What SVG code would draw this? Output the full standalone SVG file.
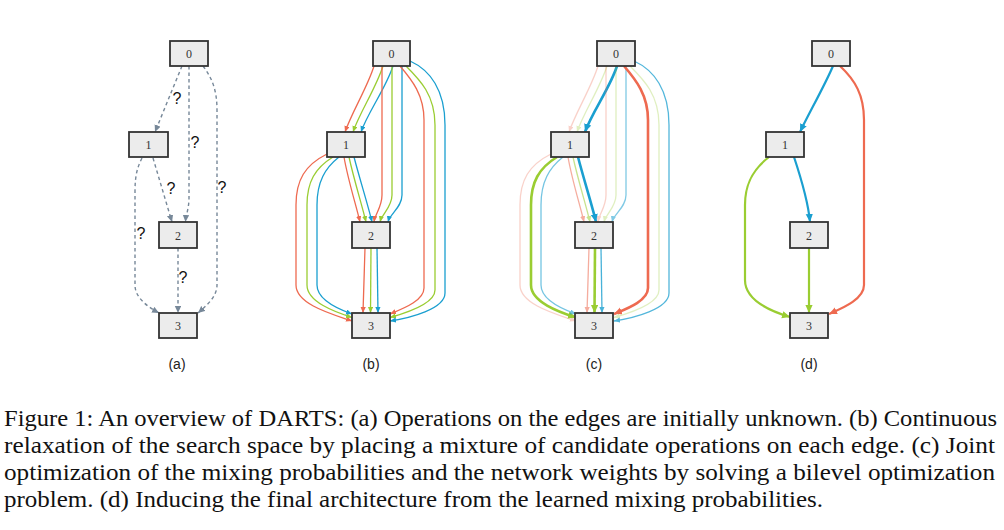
<svg xmlns="http://www.w3.org/2000/svg" width="1004" height="530" viewBox="0 0 1004 530">
<style>
.nd rect{fill:#ececec;stroke:#333;stroke-width:1.8}
.nd text{font-family:"Liberation Serif","Times New Roman",serif;font-size:12px;fill:#333;text-anchor:middle}
.q{font-family:"Liberation Sans",Arial,sans-serif;font-size:16px;fill:#111;text-anchor:middle}
.lab{font-family:"Liberation Sans",Arial,sans-serif;font-size:14px;fill:#222;text-anchor:middle}
.cap{font-family:"Liberation Serif","Times New Roman",serif;font-size:23px;fill:#111}
.e{fill:none}
.g{stroke:#778899;stroke-width:1.4;stroke-dasharray:3.5 3;marker-end:url(#agray)}
.r{stroke:#EE6A50;stroke-width:1.3;marker-end:url(#ars)}
.gr{stroke:#9ACD32;stroke-width:1.3;marker-end:url(#ags)}
.b{stroke:#1A9FD0;stroke-width:1.3;marker-end:url(#abs)}
.rL{stroke:#EE6A50;stroke-width:2.6;marker-end:url(#arl)}
.grL{stroke:#9ACD32;stroke-width:2.6;marker-end:url(#agl)}
.bL{stroke:#1A9FD0;stroke-width:2.6;marker-end:url(#abl)}
.rD{stroke:#EE6A50;stroke-width:2.2;marker-end:url(#arl)}
.grD{stroke:#9ACD32;stroke-width:2.2;marker-end:url(#agl)}
.bD{stroke:#1A9FD0;stroke-width:2.2;marker-end:url(#abl)}
</style>
<defs>
<marker id="agray" markerUnits="userSpaceOnUse" markerWidth="9" markerHeight="8" refX="7" refY="3.2" orient="auto"><path d="M0,0 L7,3.2 L0,6.4 z" fill="#778899"/></marker>
<marker id="ars" markerUnits="userSpaceOnUse" markerWidth="8" markerHeight="7" refX="6" refY="2.6" orient="auto"><path d="M0,0 L6,2.6 L0,5.2 z" fill="#EE6A50"/></marker>
<marker id="ags" markerUnits="userSpaceOnUse" markerWidth="8" markerHeight="7" refX="6" refY="2.6" orient="auto"><path d="M0,0 L6,2.6 L0,5.2 z" fill="#9ACD32"/></marker>
<marker id="abs" markerUnits="userSpaceOnUse" markerWidth="8" markerHeight="7" refX="6" refY="2.6" orient="auto"><path d="M0,0 L6,2.6 L0,5.2 z" fill="#1A9FD0"/></marker>
<marker id="arl" markerUnits="userSpaceOnUse" markerWidth="10" markerHeight="9" refX="8" refY="3.6" orient="auto"><path d="M0,0 L8,3.6 L0,7.2 z" fill="#EE6A50"/></marker>
<marker id="agl" markerUnits="userSpaceOnUse" markerWidth="10" markerHeight="9" refX="8" refY="3.6" orient="auto"><path d="M0,0 L8,3.6 L0,7.2 z" fill="#9ACD32"/></marker>
<marker id="abl" markerUnits="userSpaceOnUse" markerWidth="10" markerHeight="9" refX="8" refY="3.6" orient="auto"><path d="M0,0 L8,3.6 L0,7.2 z" fill="#1A9FD0"/></marker>
</defs>

<g id="connectors">
<g id="conn-a" class="e">
<path class="g" d="M182,66 L155,132"/>
<path class="g" d="M189,66 L189,198 C189,208 186,215 185.5,222"/>
<path class="g" d="M203,66 C212,78 217,90 217,110 L217,285 C217,297 206,306 198,313"/>
<path class="g" d="M153,158 L172,222"/>
<path class="g" d="M142,158 C137,168 135,176 135,192 L135,285 C135,298 148,307 159,313"/>
<path class="g" d="M178,248 L178,313"/>
</g>
<g id="conn-b" class="e">
<path class="r" d="M374,66 C368,86 352,112 345,132"/>
<path class="gr" d="M383,66 C376,88 360,112 353,132"/>
<path class="b" d="M393,66 C386,88 368,112 361,132"/>
<path class="r" d="M382,66 L382,195 C382,207 375,214 374,222"/>
<path class="gr" d="M392,66 L392,195 C392,207 382,214 380,222"/>
<path class="b" d="M402,66 L402,195 C402,207 390,214 388,222"/>
<path class="r" d="M400,66 C412,80 424,95 424,120 L424,288 C424,301 402,309 390,314"/>
<path class="gr" d="M406,66 C420,80 435,95 435,125 L435,290 C435,304 406,313 390,317.5"/>
<path class="b" d="M410,61 C430,70 445,90 445,125 L445,293 C445,309 410,318 390,321"/>
<path class="r" d="M344,157 C348,180 356,205 360,222"/>
<path class="gr" d="M349,157 C354,180 362,205 366,222"/>
<path class="b" d="M354,157 C360,180 368,205 372,222"/>
<path class="r" d="M327,154 C305,165 296,180 296,205 L296,285 C296,305 335,315 352,321"/>
<path class="gr" d="M333,157 C315,168 307,182 307,205 L307,285 C307,302 335,312 352,317.5"/>
<path class="b" d="M339,157 C325,168 317,182 317,205 L317,285 C317,300 338,309 352,314"/>
<path class="r" d="M365,248 L363,313"/>
<path class="gr" d="M371,248 L370.5,313"/>
<path class="b" d="M377,248 L378,313"/>
</g>
<g id="conn-c" class="e">
<path class="r" opacity="0.3" d="M598,66 C592,86 576,112 569,132"/>
<path class="gr" opacity="0.3" d="M607,66 C600,88 584,112 577,132"/>
<path class="bL" d="M617,66 C610,88 592,112 585,132"/>
<path class="r" opacity="0.3" d="M606,66 L606,195 C606,207 599,214 598,222"/>
<path class="gr" opacity="0.3" d="M616,66 L616,195 C616,207 606,214 604,222"/>
<path class="b" opacity="0.55" d="M626,66 L626,195 C626,207 614,214 612,222"/>
<path class="rL" d="M624,66 C636,80 648,95 648,120 L648,288 C648,301 626,309 614,314"/>
<path class="gr" opacity="0.3" d="M630,66 C644,80 659,95 659,125 L659,290 C659,304 630,313 614,317.5"/>
<path class="b" opacity="0.75" d="M634,61 C654,70 669,90 669,125 L669,293 C669,309 634,318 614,321"/>
<path class="r" opacity="0.55" d="M568,157 C572,180 580,205 584,222"/>
<path class="gr" opacity="0.55" d="M573,157 C578,180 586,205 590,222"/>
<path class="bL" d="M578,157 C584,180 592,205 596,222"/>
<path class="r" opacity="0.3" d="M551,154 C529,165 520,180 520,205 L520,285 C520,305 559,315 576,321"/>
<path class="grL" d="M557,157 C539,168 531,182 531,205 L531,285 C531,302 559,312 576,317.5"/>
<path class="b" opacity="0.6" d="M563,157 C549,168 541,182 541,205 L541,285 C541,300 562,309 576,314"/>
<path class="r" opacity="0.55" d="M589,248 L587,313"/>
<path class="grL" d="M595,248 L594.5,313"/>
<path class="b" opacity="0.8" d="M601,248 L602,313"/>
</g>
<g id="conn-d" class="e">
<path class="bD" d="M833,66 C825,85 808,115 800,132"/>
<path class="rD" d="M840,66 C855,80 864,95 864,120 L864,285 C864,300 840,309 829,314"/>
<path class="bD" d="M794,157 C800,175 808,200 810,222"/>
<path class="grD" d="M769,157 C752,170 745,185 745,205 L745,280 C745,300 770,311 790,317"/>
<path class="grD" d="M809,248 L809,313"/>
</g>
</g>

<g id="qmarks">
<text class="q" x="177" y="104">?</text>
<text class="q" x="195" y="148">?</text>
<text class="q" x="222" y="193">?</text>
<text class="q" x="171" y="194">?</text>
<text class="q" x="141" y="239">?</text>
<text class="q" x="183" y="283">?</text>
</g>

<g id="a0" class="nd"><rect x="170" y="41" width="38" height="25"/><text x="189" y="57.5">0</text></g>
<g id="a1" class="nd"><rect x="129" y="132" width="39" height="25"/><text x="148.5" y="148.5">1</text></g>
<g id="a2" class="nd"><rect x="159" y="222" width="38" height="26"/><text x="178" y="239.5">2</text></g>
<g id="a3" class="nd"><rect x="159" y="313" width="38" height="25"/><text x="178" y="329.5">3</text></g>

<g id="b0" class="nd"><rect x="373" y="41" width="37" height="25"/><text x="391.5" y="57.5">0</text></g>
<g id="b1" class="nd"><rect x="327" y="132" width="38" height="25"/><text x="346" y="148.5">1</text></g>
<g id="b2" class="nd"><rect x="352" y="222" width="38" height="26"/><text x="371" y="239.5">2</text></g>
<g id="b3" class="nd"><rect x="352" y="313" width="38" height="25"/><text x="371" y="329.5">3</text></g>

<g id="c0" class="nd"><rect x="597" y="41" width="38" height="25"/><text x="616" y="57.5">0</text></g>
<g id="c1" class="nd"><rect x="551" y="132" width="38" height="25"/><text x="570" y="148.5">1</text></g>
<g id="c2" class="nd"><rect x="575" y="222" width="38" height="26"/><text x="594" y="239.5">2</text></g>
<g id="c3" class="nd"><rect x="575" y="313" width="38" height="25"/><text x="594" y="329.5">3</text></g>

<g id="d0" class="nd"><rect x="812" y="41" width="38" height="25"/><text x="831" y="57.5">0</text></g>
<g id="d1" class="nd"><rect x="766" y="132" width="38" height="25"/><text x="785" y="148.5">1</text></g>
<g id="d2" class="nd"><rect x="790" y="222" width="38" height="26"/><text x="809" y="239.5">2</text></g>
<g id="d3" class="nd"><rect x="790" y="313" width="38" height="25"/><text x="809" y="329.5">3</text></g>

<g id="labels">
<text class="lab" x="177" y="369">(a)</text>
<text class="lab" x="371" y="369">(b)</text>
<text class="lab" x="594" y="369">(c)</text>
<text class="lab" x="809" y="369">(d)</text>
</g>

<g id="caption">
<text class="cap" x="4" y="426" textLength="993" lengthAdjust="spacingAndGlyphs">Figure 1: An overview of DARTS: (a) Operations on the edges are initially unknown. (b) Continuous</text>
<text class="cap" x="4" y="453" textLength="991" lengthAdjust="spacingAndGlyphs">relaxation of the search space by placing a mixture of candidate operations on each edge. (c) Joint</text>
<text class="cap" x="4" y="480" textLength="991" lengthAdjust="spacingAndGlyphs">optimization of the mixing probabilities and the network weights by solving a bilevel optimization</text>
<text class="cap" x="4" y="507" textLength="819" lengthAdjust="spacingAndGlyphs">problem. (d) Inducing the final architecture from the learned mixing probabilities.</text>
</g>
</svg>
